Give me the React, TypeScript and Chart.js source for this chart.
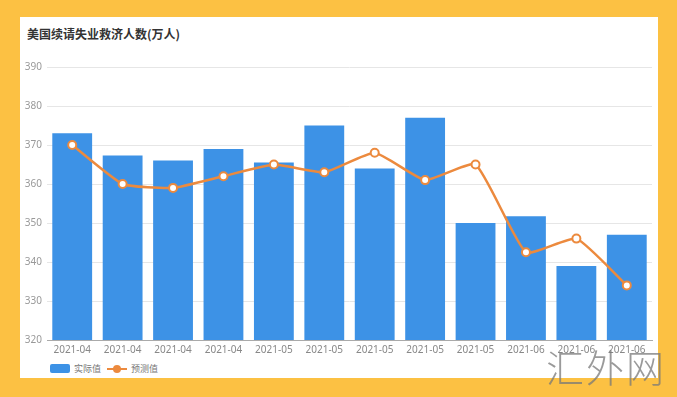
import React, { useEffect, useRef } from "react";
import { Chart, registerables } from "chart.js";

Chart.register(...registerables);

const title = "美国续请失业救济人数(万人)";
const categories = [
  "2021-04", "2021-04", "2021-04", "2021-04",
  "2021-05", "2021-05", "2021-05", "2021-05", "2021-05",
  "2021-06", "2021-06", "2021-06",
];
const actualLabel = "实际值";
const forecastLabel = "预测值";
const actualValues = [373, 367.3, 366, 369, 365.5, 375, 364, 377, 350, 351.7, 339, 347];
const forecastValues = [370, 360, 359, 362, 365, 363, 368, 361, 365, 342.5, 346, 334];
const yTicks = [320, 330, 340, 350, 360, 370, 380, 390];

const BLUE = "#3d92e6";
const ORANGE = "#ec8a3e";

export default function App() {
  const ref = useRef<HTMLCanvasElement>(null);
  useEffect(() => {
    if (!ref.current) return;
    const chart = new Chart(ref.current, {
      type: "bar",
      data: {
        labels: categories,
        datasets: [
          {
            type: "line",
            label: forecastLabel,
            data: forecastValues,
            borderColor: ORANGE,
            borderWidth: 2.5,
            backgroundColor: "#ffffff",
            pointBackgroundColor: "#ffffff",
            pointBorderColor: ORANGE,
            pointBorderWidth: 2,
            pointRadius: 4,
            tension: 0.15,
            order: 0,
          } as any,
          {
            type: "bar",
            label: actualLabel,
            data: actualValues,
            backgroundColor: BLUE,
            barPercentage: 0.79,
            categoryPercentage: 1,
            order: 1,
          },
        ],
      },
      options: {
        animation: false,
        responsive: false,
        maintainAspectRatio: false,
        layout: { padding: { top: 50, right: 6, left: 0, bottom: 0 } },
        plugins: {
          legend: { display: false },
          tooltip: { enabled: false },
        },
        scales: {
          x: {
            grid: { display: false, drawTicks: false },
            border: { display: true, color: "#aaaaaa", width: 1 },
            ticks: {
              color: "#888888",
              font: { family: "'Noto Sans', sans-serif", size: 10 },
              padding: 4,
              maxRotation: 0,
              autoSkip: false,
            },
            afterFit: (s: any) => {
              s.height = 22;
            },
          },
          y: {
            min: 320,
            max: 390,
            afterBuildTicks: (s: any) => {
              s.ticks = yTicks.map((v) => ({ value: v }));
            },
            grid: { color: "#e6e6e6", drawTicks: false, lineWidth: 1 },
            border: { display: false },
            ticks: {
              color: "#999999",
              font: { family: "'Noto Sans', sans-serif", size: 10 },
              padding: 5,
            },
            afterFit: (s: any) => {
              s.width = 27;
            },
          },
        },
      },
    });
    return () => chart.destroy();
  }, []);

  return (
    <div
      style={{
        position: "fixed",
        left: 0,
        top: 0,
        width: 677,
        height: 397,
        background: "#fcc143",
        overflow: "hidden",
        fontFamily: "'Noto Sans CJK SC', 'Noto Sans', sans-serif",
      }}
    >
      <div
        style={{
          position: "absolute",
          left: 20,
          top: 17,
          width: 638,
          height: 361,
          background: "#ffffff",
        }}
      >
        <div
          style={{
            position: "absolute",
            left: 7,
            top: 8,
            fontSize: 12,
            fontWeight: 700,
            color: "#333333",
            whiteSpace: "nowrap",
          }}
        >
          {title}
        </div>
        <canvas
          ref={ref}
          width={638}
          height={345}
          style={{ position: "absolute", left: 0, top: 0, width: 638, height: 345 }}
        />
        <div
          style={{
            position: "absolute",
            left: 30,
            top: 345,
            display: "flex",
            alignItems: "center",
            fontSize: 9,
            color: "#777777",
            whiteSpace: "nowrap",
          }}
        >
          <div style={{ width: 20, height: 9, background: BLUE, borderRadius: 2, marginRight: 4 }} />
          <span>{actualLabel}</span>
          <div style={{ position: "relative", width: 20, height: 9, marginLeft: 6, marginRight: 4 }}>
            <div style={{ position: "absolute", left: 0, top: 4, width: 20, height: 1.5, background: ORANGE }} />
            <div
              style={{
                position: "absolute",
                left: 6,
                top: 1,
                width: 8,
                height: 8,
                borderRadius: 4,
                background: ORANGE,
              }}
            />
          </div>
          <span>{forecastLabel}</span>
        </div>
      </div>
      <div
        style={{
          position: "absolute",
          left: 546,
          top: 345,
          fontSize: 38,
          color: "rgba(120,120,120,0.75)",
          fontWeight: 300,
          letterSpacing: 2,
          whiteSpace: "nowrap",
          lineHeight: 1.1,
        }}
      >
        汇外网
      </div>
    </div>
  );
}
